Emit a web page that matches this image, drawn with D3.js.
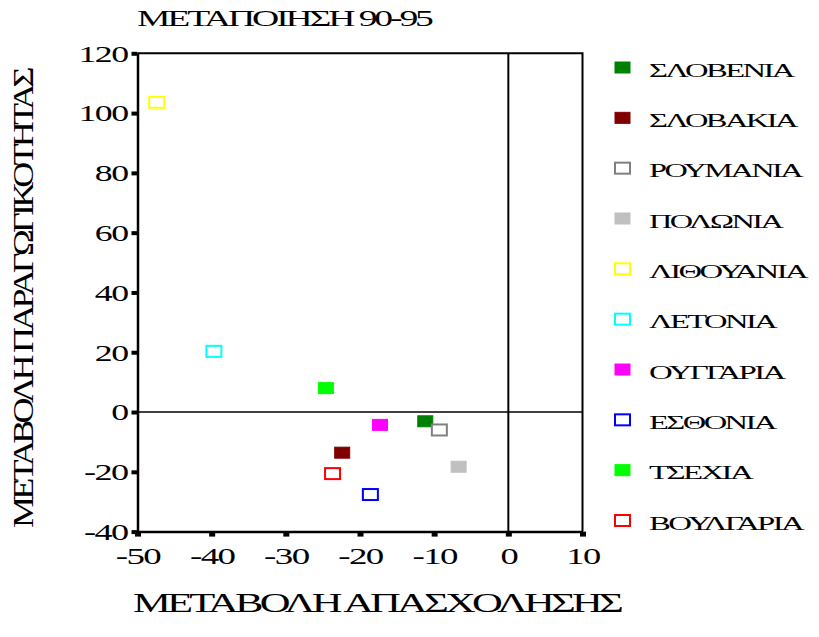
<!DOCTYPE html>
<html>
<head>
<meta charset="utf-8">
<script src="https://cdn.jsdelivr.net/npm/d3@7"></script>
<style>
  html, body { margin: 0; padding: 0; background: #fff; }
  svg { display: block; }
  text { font-family: "Liberation Serif", "Times New Roman", serif; fill: #000; }
</style>
</head>
<body>
<svg id="chart" width="819" height="637"></svg>
<script>
// ---- data ----
const countries = ["ΣΛΟΒΕΝΙΑ", "ΣΛΟΒΑΚΙΑ", "ΡΟΥΜΑΝΙΑ", "ΠΟΛΩΝΙΑ", "ΛΙΘΟΥΑΝΙΑ", "ΛΕΤΟΝΙΑ", "ΟΥΓΓΑΡΙΑ", "ΕΣΘΟΝΙΑ", "ΤΣΕΧΙΑ", "ΒΟΥΛΓΑΡΙΑ"];
const employmentChange = [-11.2, -22.4, -9.3, -6.7, -47.4, -39.7, -17.3, -18.6, -24.6, -23.7];
const productivityChange = [-3.1, -13.6, -6.0, -18.3, 103.6, 20.3, -4.3, -27.6, 8.0, -20.6];
const colors = ["#008000", "#800000", "#808080", "#c0c0c0", "#ffff00", "#00ffff", "#ff00ff", "#0000ff", "#00ff00", "#ff0000"];
const filled = [true, true, false, true, false, false, true, false, true, false];
const xTicks = [-50, -40, -30, -20, -10, 0, 10];
const yTicks = [-40, -20, 0, 20, 40, 60, 80, 100, 120];
const titleText = "ΜΕΤΑΠΟΙΗΣΗ 90-95";
const xTitle = "ΜΕΤΑΒΟΛΗ ΑΠΑΣΧΟΛΗΣΗΣ";
const yTitle = "ΜΕΤΑΒΟΛΗ ΠΑΡΑΓΩΓΙΚΟΤΗΤΑΣ";

const data = countries.map((c, i) => ({
  name: c, x: employmentChange[i], y: productivityChange[i], color: colors[i], filled: filled[i]
}));

// ---- layout ----
const svg = d3.select("#chart");
const x = d3.scaleLinear().domain([-50, 10]).range([137.5, 582.5]);
const y = d3.scaleLinear().domain([-40, 120]).range([531.6, 53.3]);

// Wide, tightly set serif: widen glyphs and tighten spacing, keeping the overall width
function stretchTight(sel, f, ls, pre) {
  sel.each(function() {
    const t = d3.select(this);
    const w0 = this.getComputedTextLength();
    t.style("letter-spacing", ls + "px");
    const w1 = this.getComputedTextLength();
    const k = f * w0 / w1;
    const x0 = +(t.attr("x") || 0);
    t.attr("x", x0 / k).attr("transform", (pre || "") + ` scale(${k},1)`);
  });
}
function fitTight(sel, width, ls, pre) {
  sel.each(function() {
    const w0 = this.getComputedTextLength();
    stretchTight(d3.select(this), width / w0, ls, pre);
  });
}

// frame (top and right border)
svg.append("path")
  .attr("d", `M${x(-50)},${y(120)}H${x(10)}V${y(-40)}`)
  .attr("fill", "none").attr("stroke", "#000").attr("stroke-width", 2);

// zero lines
svg.append("line")
  .attr("x1", x(-50)).attr("x2", x(10)).attr("y1", y(0)).attr("y2", y(0))
  .attr("stroke", "#000").attr("stroke-width", 1.5);
svg.append("line")
  .attr("x1", x(0)).attr("x2", x(0)).attr("y1", y(120)).attr("y2", y(-40))
  .attr("stroke", "#000").attr("stroke-width", 2);

// axes
const fmt = d => String(d);
const xAxis = svg.append("g")
  .attr("transform", `translate(0,${y(-40)})`)
  .call(d3.axisBottom(x).tickValues(xTicks).tickFormat(fmt).tickSize(5).tickSizeOuter(0).tickPadding(11));
xAxis.select(".domain").attr("stroke", "#000").attr("stroke-width", 2.5);
xAxis.selectAll(".tick line").attr("stroke", "#000").attr("stroke-width", 6);
xAxis.selectAll(".tick text")
  .attr("font-family", "Liberation Serif").attr("font-size", 23).attr("fill", "#000")
  .call(stretchTight, 1.45, -1);

const yAxis = svg.append("g")
  .attr("transform", `translate(${x(-50)},0)`)
  .call(d3.axisLeft(y).tickValues(yTicks).tickFormat(fmt).tickSize(6).tickSizeOuter(0).tickPadding(4));
yAxis.select(".domain").attr("stroke", "#000").attr("stroke-width", 2.5);
yAxis.selectAll(".tick line").attr("stroke", "#000").attr("stroke-width", 4);
yAxis.selectAll(".tick text")
  .attr("font-family", "Liberation Serif").attr("font-size", 23).attr("fill", "#000")
  .attr("dy", "0.34em")
  .call(stretchTight, 1.42, -1);

// points
const mw = 15, mh = 11;
svg.append("g").selectAll("rect").data(data).join("rect")
  .attr("x", d => x(d.x) - mw / 2)
  .attr("y", d => y(d.y) - mh / 2)
  .attr("width", mw).attr("height", mh)
  .attr("fill", d => d.filled ? d.color : "#fff")
  .attr("stroke", d => d.color)
  .attr("stroke-width", d => d.filled ? 1 : 2);

// legend
const legendY = d3.scalePoint().domain(countries).range([67.5, 520.5]);
const lg = svg.append("g").selectAll("g").data(data).join("g")
  .attr("transform", d => `translate(0,${legendY(d.name)})`);
lg.append("rect")
  .attr("x", 615).attr("y", -5.5).attr("width", 15).attr("height", 11)
  .attr("fill", d => d.filled ? d.color : "#fff")
  .attr("stroke", d => d.color)
  .attr("stroke-width", d => d.filled ? 1 : 2);
lg.append("text")
  .attr("x", 649).attr("y", 9)
  .attr("font-size", 19)
  .text(d => d.name)
  .call(stretchTight, 1.5, -1.5);

// titles
svg.append("text")
  .attr("x", 137).attr("y", 26)
  .attr("font-size", 24)
  .text(titleText)
  .call(fitTight, 294, -2);

svg.append("text")
  .attr("x", 133).attr("y", 612)
  .attr("font-size", 28)
  .text(xTitle)
  .call(fitTight, 487, -2.5);

svg.append("text")
  .attr("x", -229).attr("y", 0)
  .attr("font-size", 29)
  .text(yTitle)
  .call(fitTight, 458, -3, "translate(33,299) rotate(-90)");
</script>
</body>
</html>
